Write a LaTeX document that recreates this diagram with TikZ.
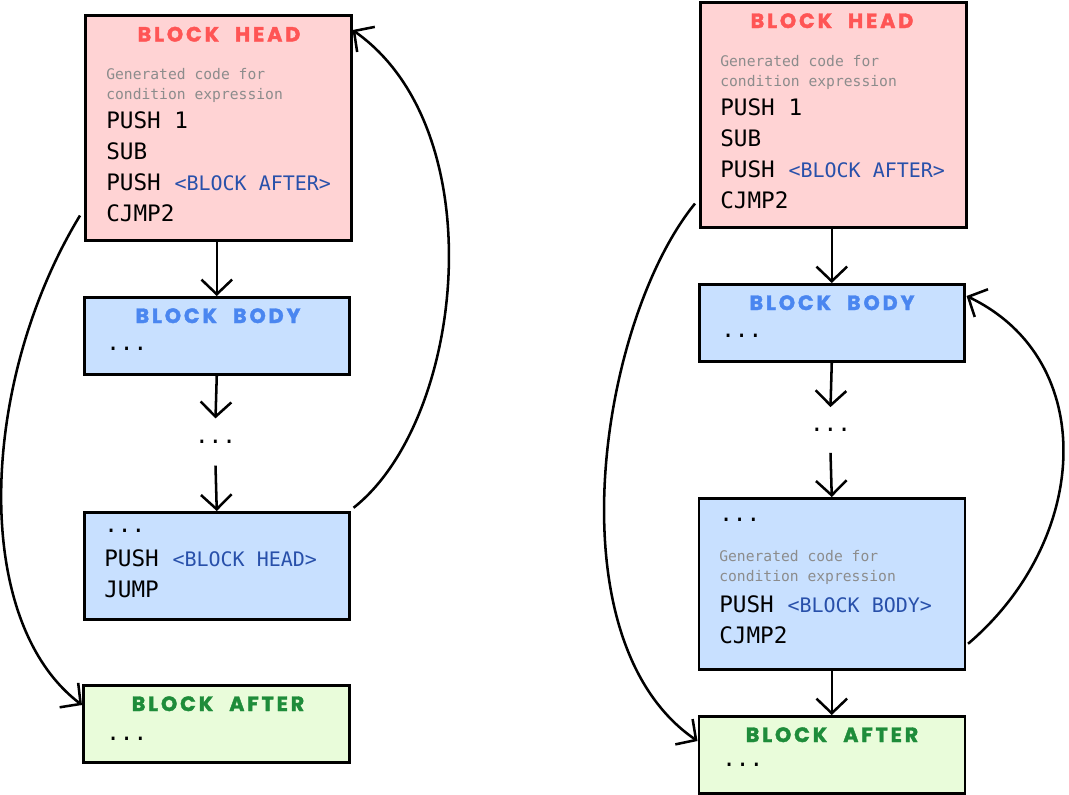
\documentclass[tikz,border=0pt]{standalone}
\usepackage{fontspec}
\setmonofont{DejaVu Sans Mono}
\newfontfamily\titlefont{Poppins}[LetterSpace=14, WordSpace=2.2, FakeBold=1.8]
\usetikzlibrary{arrows.meta}

\definecolor{headfill}{RGB}{255,211,212}
\definecolor{bodyfill}{RGB}{200,224,255}
\definecolor{afterfill}{RGB}{233,252,218}
\definecolor{headtitle}{RGB}{255,85,85}
\definecolor{bodytitle}{RGB}{74,134,240}
\definecolor{aftertitle}{RGB}{30,140,58}
\definecolor{reftext}{RGB}{40,80,170}
\definecolor{notetext}{RGB}{140,140,140}

\tikzset{
  box/.style={draw=black, line width=1.9pt, rectangle, inner sep=0pt, anchor=north west},
  headbox/.style={box, fill=headfill},
  bodybox/.style={box, fill=bodyfill},
  afterbox/.style={box, fill=afterfill},
  ttl/.style={anchor=base, inner sep=0pt, font=\titlefont\bfseries\fontsize{15.5}{15.5}\selectfont},
  code/.style={anchor=base west, inner sep=0pt, font=\ttfamily\fontsize{17}{17}\selectfont},
  note/.style={anchor=base west, inner sep=0pt, text=notetext, font=\ttfamily\fontsize{11}{11}\selectfont},
  dots/.style={inner sep=0pt, font=\ttfamily\fontsize{17}{17}\selectfont},
  arr/.style={line width=1.9pt, -{Straight Barb[length=11pt, width=23pt, line width=1.9pt]}},
}
\newcommand{\blockref}[1]{{\color{reftext}\fontsize{15}{15}\selectfont#1}}

\begin{document}
\begin{tikzpicture}[x=0.75pt,y=0.75pt,yscale=-1,xscale=1]
\useasboundingbox (0,0) rectangle (1069,794);

% Left: while loop
\node [headbox, minimum width=199.5pt, minimum height=168.75pt] (lhead) at (84,14) {};
\node [bodybox, minimum width=198.75pt, minimum height=57.75pt] (lbody) at (83,296) {};
\node [bodybox, minimum width=198.75pt, minimum height=80.25pt] (lloop) at (83,511) {};
\node [afterbox, minimum width=199.5pt, minimum height=57.75pt] (lafter) at (82,684) {};
\node [dots, minimum height=35pt] (ldots) at (215.5,442) {...};

\node [ttl, text=headtitle] (lheadttl) at (219,41.5) {BLOCK HEAD};
\node [note] (lnote1) at (106,79) {Generated code for};
\node [note] (lnote2) at (106,99) {condition expression};
\node [code] (lhl1) at (106,128) {PUSH 1};
\node [code] (lhl2) at (106,159) {SUB};
\node [code] (lhl3) at (106,190) {PUSH \blockref{<BLOCK AFTER>}};
\node [code] (lhl4) at (106,221) {CJMP2};

\node [ttl, text=bodytitle] (lbodyttl) at (218,323) {BLOCK BODY};
\node [code] (lbl1) at (106,350) {...};

\node [code] (lll1) at (104,532) {...};
\node [code] (lll2) at (104,566) {PUSH \blockref{<BLOCK HEAD>}};
\node [code] (lll3) at (104,597) {JUMP};

\node [ttl, text=aftertitle] (lafterttl) at (218,711) {BLOCK AFTER};
\node [code] (lal1) at (106,740) {...};

\draw [arr] (lhead.south -| lbody.north) -- (lbody.north);
\draw [arr] (lbody.south) -- (ldots.north);
\draw [arr] (ldots.south) -- (lloop.north);
\draw [arr] ([shift={(3,-58)}]lloop.east) .. controls (465,420) and (495,130) .. ([shift={(0,16)}]lhead.north east);
\draw [arr] ([shift={(-4,-26)}]lhead.south west) .. controls (-20,380) and (-30,620) .. ([shift={(0,21)}]lafter.north west);

% Right: do-while loop
\node [headbox, minimum width=199.5pt, minimum height=168.75pt] (rhead) at (699,1) {};
\node [bodybox, minimum width=198.75pt, minimum height=57.75pt] (rbody) at (698,283) {};
\node [bodybox, minimum width=199.5pt, minimum height=128.25pt] (rloop) at (697.5,497) {};
\node [afterbox, minimum width=199.5pt, minimum height=57.75pt] (rafter) at (697.5,715) {};
\node [dots, minimum height=34pt] (rdots) at (830.5,430) {...};

\node [ttl, text=headtitle] (rheadttl) at (832,28) {BLOCK HEAD};
\node [note] (rnote1) at (720,66) {Generated code for};
\node [note] (rnote2) at (720,86) {condition expression};
\node [code] (rhl1) at (720,115) {PUSH 1};
\node [code] (rhl2) at (720,146) {SUB};
\node [code] (rhl3) at (720,177) {PUSH \blockref{<BLOCK AFTER>}};
\node [code] (rhl4) at (720,208) {CJMP2};

\node [ttl, text=bodytitle] (rbodyttl) at (832,310) {BLOCK BODY};
\node [code] (rbl1) at (721,337) {...};

\node [code] (rll1) at (719,521) {...};
\node [note] (rnote3) at (719,561) {Generated code for};
\node [note] (rnote4) at (719,581) {condition expression};
\node [code] (rll2) at (719,612) {PUSH \blockref{<BLOCK BODY>}};
\node [code] (rll3) at (719,643) {CJMP2};

\node [ttl, text=aftertitle] (rafterttl) at (832,742) {BLOCK AFTER};
\node [code] (ral1) at (722,766) {...};

\draw [arr] (rhead.south -| rbody.north) -- (rbody.north);
\draw [arr] (rbody.south) -- (rdots.north);
\draw [arr] (rdots.south) -- (rloop.north);
\draw [arr] (rloop.south) -- (rafter.north);
\draw [arr] ([shift={(2,60)}]rloop.east) .. controls (1090,540) and (1100,360) .. ([shift={(1,13)}]rbody.north east);
\draw [arr] ([shift={(-4,-25)}]rhead.south west) .. controls (600,320) and (550,640) .. ([shift={(0,26)}]rafter.north west);

\end{tikzpicture}
\end{document}
